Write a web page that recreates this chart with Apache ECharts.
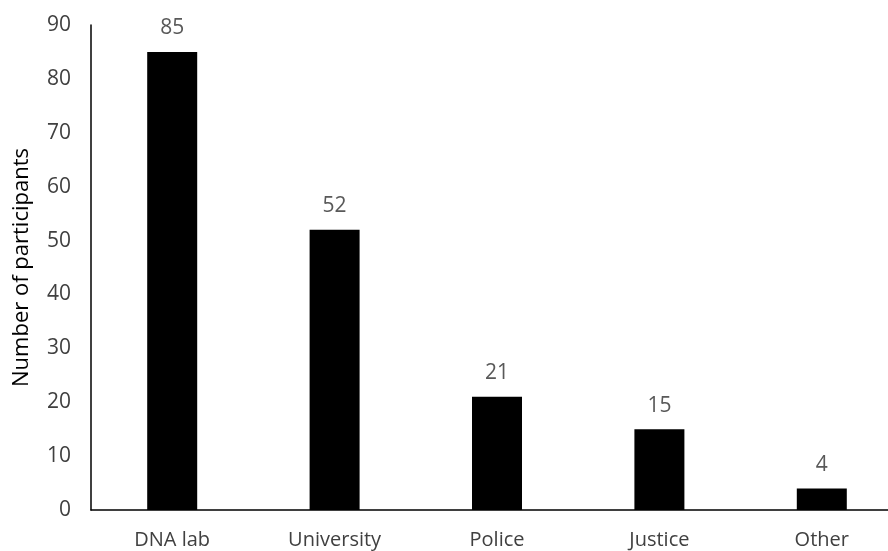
<!DOCTYPE html>
<html>
<head>
<meta charset="utf-8">
<script src="https://cdn.jsdelivr.net/npm/echarts@6/dist/echarts.min.js"></script>
<style>
  html, body { margin: 0; padding: 0; background: #fff; overflow: hidden; }
  /* the last category band runs a little past the visible right edge */
  #chart { width: 903px; height: 551px; }
</style>
</head>
<body>
<div id="chart"></div>
<script>
const categories = ['DNA lab', 'University', 'Police', 'Justice', 'Other'];
const participants = [85, 52, 21, 15, 4];
const yTicks = { min: 0, max: 90, interval: 10 };

const font = '"Open Sans", "Liberation Sans", sans-serif';
const chart = echarts.init(document.getElementById('chart'));
chart.setOption({
  animation: false,
  grid: { left: 91, right: 0, top: 25, bottom: 41, containLabel: false },
  xAxis: {
    type: 'category',
    data: categories,
    axisLine: { lineStyle: { color: '#000', width: 1.5 } },
    axisTick: { show: false },
    axisLabel: { color: '#404040', fontSize: 20, fontFamily: font, margin: 20 }
  },
  yAxis: {
    type: 'value',
    min: yTicks.min,
    max: yTicks.max,
    interval: yTicks.interval,
    name: 'Number of participants',
    nameLocation: 'middle',
    nameGap: 58,
    nameTextStyle: { color: '#000', fontSize: 22, fontFamily: font },
    splitLine: { show: false },
    axisLine: { show: true, lineStyle: { color: '#000', width: 1.5 } },
    axisTick: { show: false },
    axisLabel: { color: '#404040', fontSize: 21, fontFamily: font, margin: 20 }
  },
  series: [{
    type: 'bar',
    data: participants,
    barWidth: 50,
    itemStyle: { color: '#000' },
    label: {
      show: true,
      position: 'top',
      distance: 13,
      color: '#595959',
      fontSize: 21,
      fontFamily: font
    }
  }]
});
</script>
</body>
</html>
